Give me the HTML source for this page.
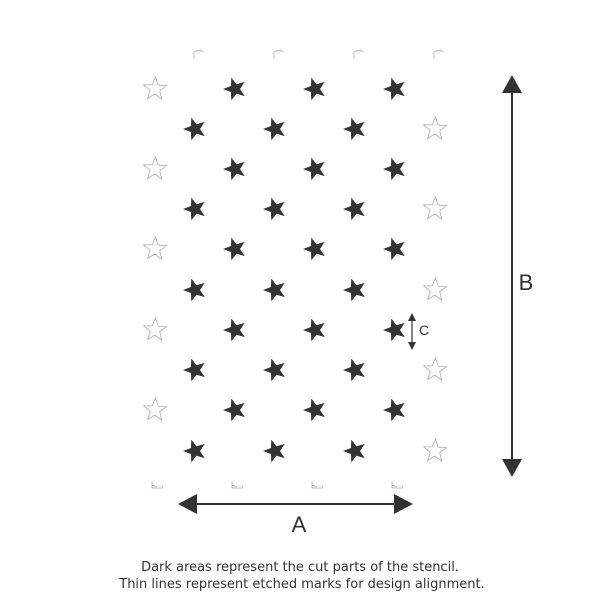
<!DOCTYPE html>
<html><head><style>html,body{margin:0;padding:0;background:#fff;width:600px;height:600px;overflow:hidden}</style></head>
<body>
<svg width="600" height="600" xmlns="http://www.w3.org/2000/svg">
<defs>
<polygon id="s" points="-12,0 -4.05,-2.94 -3.7,-11.4 1.55,-4.76 9.7,-7.1 5,0 9.7,7.1 1.55,4.76 -3.7,11.4 -4.05,2.94"/>
<g id="d"><use href="#s" fill="#333"/></g>
<g id="o"><use href="#s" fill="none" stroke="#aaa" stroke-width="0.8" transform="rotate(20)"/></g>
<g id="p"><path d="M-4,4 L-4,-3 L2,-5 L5,-3" fill="none" stroke="#aaa" stroke-width="0.8"/></g>
<g id="q"><path d="M-5,-4 L-5,3 L5,3 L6,0 M-5,0 L0,2" fill="none" stroke="#aaa" stroke-width="0.8"/></g>
</defs>
<g>
<use href="#p" x="198" y="55"/><use href="#p" x="278" y="55"/><use href="#p" x="358" y="55"/><use href="#p" x="438" y="55"/>
<use href="#o" x="155" y="89"/><use href="#d" x="235" y="89"/><use href="#d" x="315" y="89"/><use href="#d" x="395" y="89"/>
<use href="#d" x="195" y="129"/><use href="#d" x="275" y="129"/><use href="#d" x="355" y="129"/><use href="#o" x="435" y="129"/>
<use href="#o" x="155" y="169"/><use href="#d" x="235" y="169"/><use href="#d" x="315" y="169"/><use href="#d" x="395" y="169"/>
<use href="#d" x="195" y="209"/><use href="#d" x="275" y="209"/><use href="#d" x="355" y="209"/><use href="#o" x="435" y="209"/>
<use href="#o" x="155" y="249"/><use href="#d" x="235" y="249"/><use href="#d" x="315" y="249"/><use href="#d" x="395" y="249"/>
<use href="#d" x="195" y="290"/><use href="#d" x="275" y="290"/><use href="#d" x="355" y="290"/><use href="#o" x="435" y="290"/>
<use href="#o" x="155" y="330"/><use href="#d" x="235" y="330"/><use href="#d" x="315" y="330"/><use href="#d" x="395" y="330"/>
<use href="#d" x="195" y="370"/><use href="#d" x="275" y="370"/><use href="#d" x="355" y="370"/><use href="#o" x="435" y="370"/>
<use href="#o" x="155" y="410"/><use href="#d" x="235" y="410"/><use href="#d" x="315" y="410"/><use href="#d" x="395" y="410"/>
<use href="#d" x="195" y="451"/><use href="#d" x="275" y="451"/><use href="#d" x="355" y="451"/><use href="#o" x="435" y="451"/>
<use href="#q" x="157" y="485"/><use href="#q" x="237" y="485"/><use href="#q" x="317" y="485"/><use href="#q" x="397" y="485"/>
</g>
<line x1="512" y1="90" x2="512" y2="462" stroke="#333" stroke-width="2"/>
<polygon points="512,75 502,93 522,93" fill="#333"/>
<polygon points="512,477 502,459 522,459" fill="#333"/>
<text x="526" y="290" font-family="Liberation Sans, sans-serif" font-size="22" fill="#333" text-anchor="middle">B</text>
<line x1="192" y1="504" x2="400" y2="504" stroke="#333" stroke-width="2"/>
<polygon points="178,504 197,494 197,514" fill="#333"/>
<polygon points="413,504 394,494 394,514" fill="#333"/>
<text x="299" y="532" font-family="Liberation Sans, sans-serif" font-size="22" fill="#333" text-anchor="middle">A</text>
<line x1="412" y1="318" x2="412" y2="345" stroke="#333" stroke-width="1.2"/>
<polygon points="412,313 408,321 416,321" fill="#333"/>
<polygon points="412,350 408,342 416,342" fill="#333"/>
<text x="424" y="335" font-family="Liberation Sans, sans-serif" font-size="14" fill="#333" text-anchor="middle">C</text>
<text x="300" y="571" font-family="DejaVu Sans, sans-serif" font-size="13" fill="#333" text-anchor="middle">Dark areas represent the cut parts of the stencil.</text>
<text x="302" y="588" font-family="DejaVu Sans, sans-serif" font-size="13" fill="#333" text-anchor="middle">Thin lines represent etched marks for design alignment.</text>
</svg>
</body></html>
